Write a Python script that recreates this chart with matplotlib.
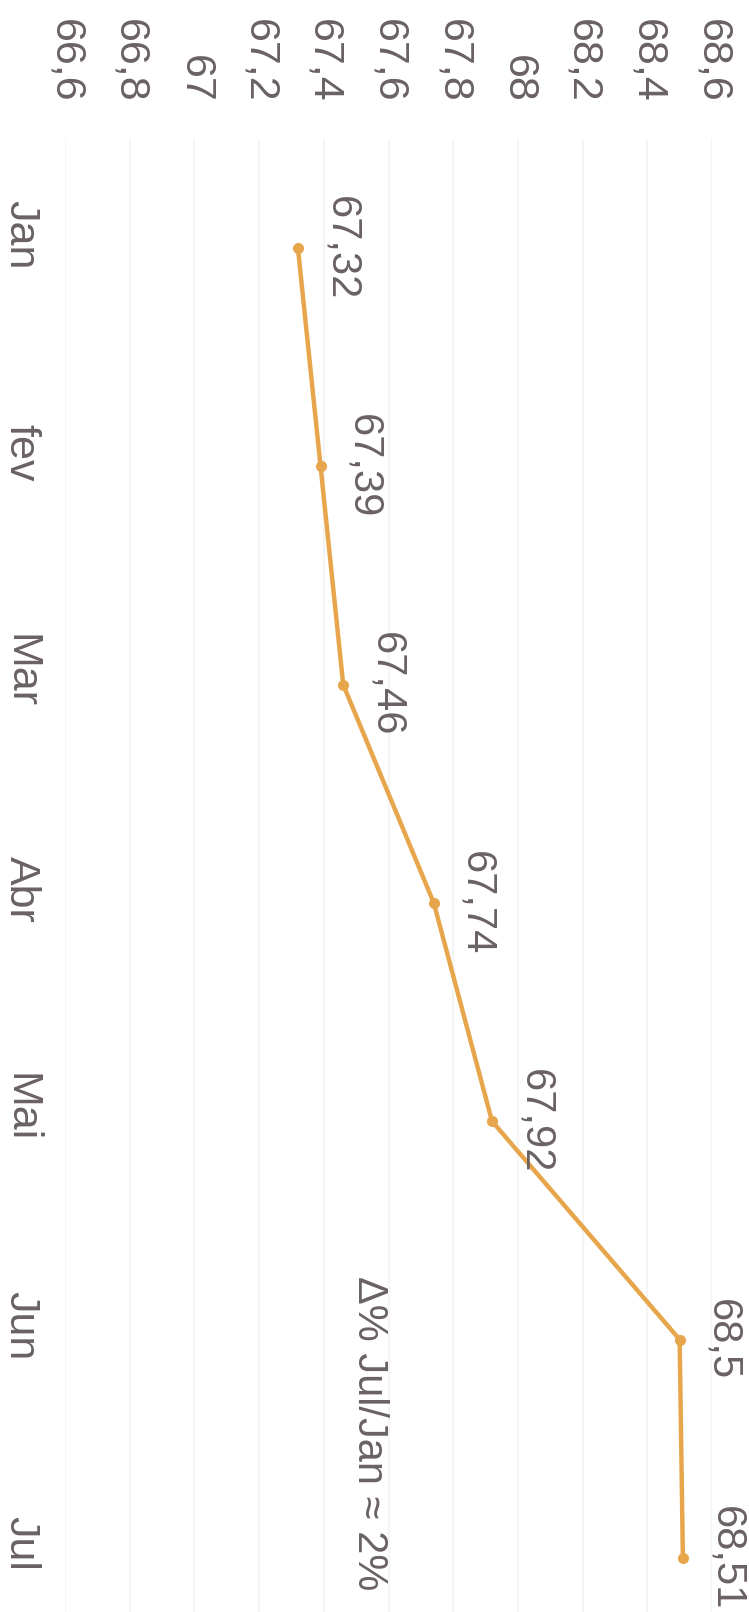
import numpy as np
import matplotlib
matplotlib.use("Agg")
import matplotlib.pyplot as plt
from matplotlib.transforms import ScaledTranslation

plt.rcParams['font.family'] = ['Liberation Sans', 'DejaVu Sans']

months = ["Jan", "fev", "Mar", "Abr", "Mai", "Jun", "Jul"]
values = [67.32, 67.39, 67.46, 67.74, 67.92, 68.50, 68.51]
value_ticks = [66.6, 66.8, 67.0, 67.2, 67.4, 67.6, 67.8, 68.0, 68.2, 68.4, 68.6]
note = "Δ% Jul/Jan ≈ 2%"

line_color = "#e8a64c"
text_color = "#6a6262"


def fmt(v):
    # portuguese decimal comma, no trailing zeros
    s = ("%.2f" % v).rstrip("0").rstrip(".")
    return s.replace(".", ",")


fig = plt.figure(figsize=(7.49, 16.12), dpi=100)
# chart is printed rotated 90 deg clockwise: values run left->right, months top->bottom
ax = fig.add_axes([0.0868, -0.0341, 0.8638, 0.9479])

pos = np.arange(len(months))
ax.plot(values, pos, color=line_color, lw=3.2, marker="o", ms=7, zorder=3)

for v, p in zip(values, pos):
    ax.annotate(fmt(v), (v, p), xytext=(31, 0), textcoords="offset points",
                rotation=-90, ha="center", va="center", fontsize=30,
                color=text_color, annotation_clip=False)

ax.text(67.54, 5.43, note, rotation=-90, ha="center", va="center",
        fontsize=30, color=text_color)

ax.set_xlim(66.6, 68.6)
ax.set_ylim(len(months) - 0.5, -0.5)

ax.xaxis.tick_top()
ax.set_xticks(value_ticks)
ax.set_xticklabels([fmt(t) for t in value_ticks], rotation=-90, fontsize=31,
                   color=text_color)
ax.set_yticks(pos)
ax.set_yticklabels(months, rotation=-90, fontsize=31, color=text_color,
                   va="center", ha="center")
ax.tick_params(axis="x", length=0, pad=26)
ax.tick_params(axis="y", length=0, pad=32)

# month labels sit a little above their points in the print
shift = ScaledTranslation(0, 10 / 72, fig.dpi_scale_trans)
for lab in ax.get_yticklabels():
    lab.set_transform(lab.get_transform() + shift)

ax.grid(axis="x", color="#f5f5f5", lw=1.5)
ax.set_axisbelow(True)
for s in ax.spines.values():
    s.set_visible(False)

fig.savefig("out.png", dpi=100)
